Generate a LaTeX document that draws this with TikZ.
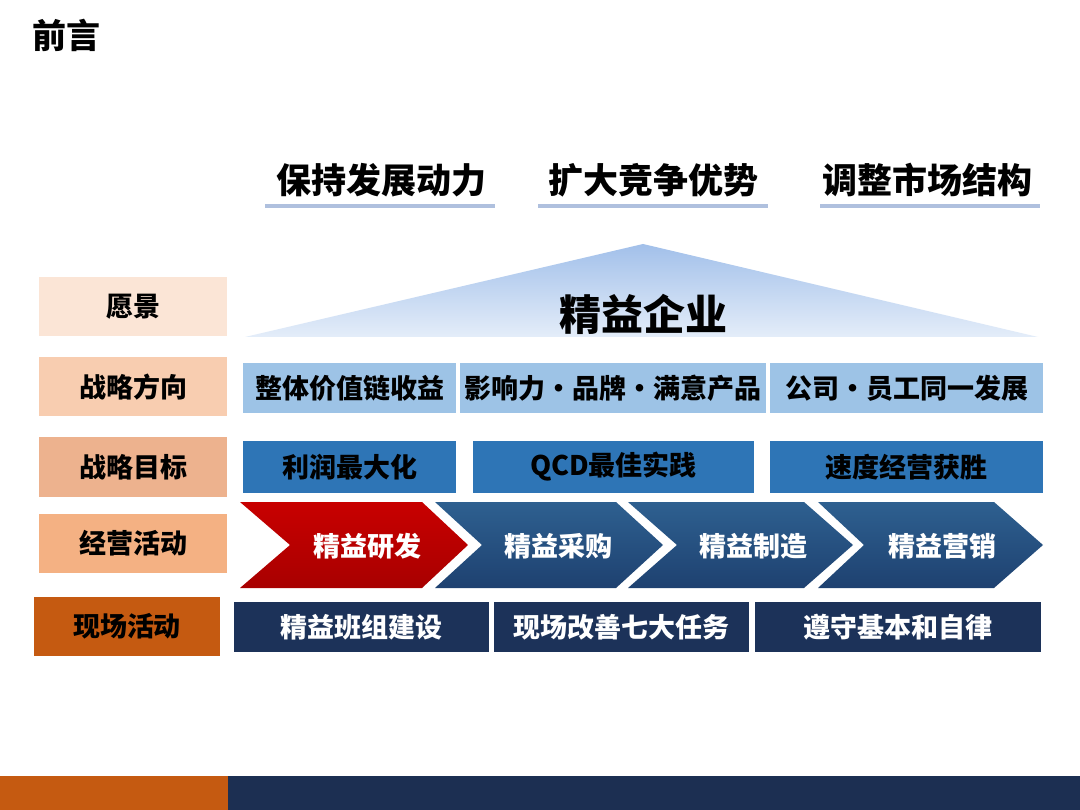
\documentclass[tikz,border=0pt]{standalone}
\usepackage{fontspec}
\setmainfont{Noto Sans CJK SC}
\definecolor{visionc}{HTML}{FBE5D6}
\definecolor{dirc}{HTML}{F8CDB0}
\definecolor{goalc}{HTML}{EDB28E}
\definecolor{opc}{HTML}{F4B183}
\definecolor{sitec}{HTML}{C55A11}
\definecolor{lblue}{HTML}{9DC3E6}
\definecolor{mblue}{HTML}{2E75B6}
\definecolor{navy}{HTML}{1C3259}
\definecolor{barnavy}{HTML}{1C2F52}
\definecolor{ulc}{HTML}{AFC0DE}
\definecolor{chevtop}{HTML}{2E6090}
\definecolor{chevbot}{HTML}{1E4170}
\definecolor{redtop}{HTML}{C80000}
\definecolor{redbot}{HTML}{A80000}
\definecolor{tritop}{HTML}{A2C0EA}
\definecolor{tribot}{HTML}{E4EDF9}
\begin{document}
\begin{tikzpicture}[x=1pt,y=-1pt,
  txt/.style={font=\fontsize{27}{31}\selectfont\bfseries, inner sep=0pt},
  lab/.style={txt, text=black, minimum width=188pt, minimum height=59pt},
  box/.style={txt, minimum height=50pt},
  head/.style={font=\fontsize{35}{40}\selectfont\bfseries, text=black, inner sep=0pt},
  uline/.style={ulc, line width=4pt},
  chevtext/.style={txt, text=white}]
\useasboundingbox (0,0) rectangle (1080,810);
\fill[white] (0,0) rectangle (1080,810);

% title
\node[head, font=\fontsize{34}{38}\selectfont\bfseries] (title) at (66,35) {前言};

% headings
\node[head] (h1) at (381,180) {保持发展动力};
\node[head] (h2) at (653,180) {扩大竞争优势};
\node[head] (h3) at (927,180) {调整市场结构};
\draw[uline] (265,206) -- (495,206);
\draw[uline] (538,206) -- (768,206);
\draw[uline] (820,206) -- (1040,206);

% triangle
\shade[top color=tritop, bottom color=tribot] (643,244) -- (1038,337) -- (245,337) -- cycle;
\node[txt, font=\fontsize{42}{46}\selectfont\bfseries] (vision) at (643,314) {精益企业};

% left labels
\node[lab, fill=visionc] (l1) at (133,307) {愿景};
\node[lab, fill=dirc] (l2) at (133,387) {战略方向};
\node[lab, fill=goalc] (l3) at (133,467) {战略目标};
\node[lab, fill=opc] (l4) at (133,543) {经营活动};
\node[lab, fill=sitec, minimum width=186pt] (l5) at (127,626) {现场活动};

% strategic direction
\node[box, fill=lblue, minimum width=213pt] (d1) at (349.5,388) {整体价值链收益};
\node[box, fill=lblue, minimum width=306pt] (d2) at (613,388) {影响力·品牌·满意产品};
\node[box, fill=lblue, minimum width=273pt] (d3) at (906.5,388) {公司·员工同一发展};

% strategic goals
\node[box, fill=mblue, minimum width=213pt, minimum height=51pt] (g1) at (349.5,467) {利润最大化};
\node[box, fill=mblue, minimum width=281pt, minimum height=51pt] (g2) at (613.5,467) {QCD最佳实践};
\node[box, fill=mblue, minimum width=273pt, minimum height=51pt] (g3) at (906.5,467) {速度经营获胜};

% chevrons
\shade[top color=redtop, bottom color=redbot] (240,502) -- (422,502) -- (468,545) -- (422,588) -- (240,588) -- (290,545) -- cycle;
\shade[top color=chevtop, bottom color=chevbot] (435,502) -- (616,502) -- (663,545) -- (616,588) -- (435,588) -- (482,545) -- cycle;
\shade[top color=chevtop, bottom color=chevbot] (628,502) -- (804,502) -- (853,545) -- (804,588) -- (628,588) -- (677,545) -- cycle;
\shade[top color=chevtop, bottom color=chevbot] (818,502) -- (994,502) -- (1043,545) -- (994,588) -- (818,588) -- (864,545) -- cycle;
\node[chevtext] (c1) at (367,546) {精益研发};
\node[chevtext] (c2) at (558,546) {精益采购};
\node[chevtext] (c3) at (753,546) {精益制造};
\node[chevtext] (c4) at (942,546) {精益营销};

% site activities
\node[box, fill=navy, text=white, minimum width=255pt] (s1) at (361.5,627) {精益班组建设};
\node[box, fill=navy, text=white, minimum width=255pt] (s2) at (621.5,627) {现场改善七大任务};
\node[box, fill=navy, text=white, minimum width=286pt] (s3) at (898,627) {遵守基本和自律};

% bottom bar
\fill[sitec] (0,776) rectangle (228,810);
\fill[barnavy] (228,776) rectangle (1080,810);
\end{tikzpicture}
\end{document}
